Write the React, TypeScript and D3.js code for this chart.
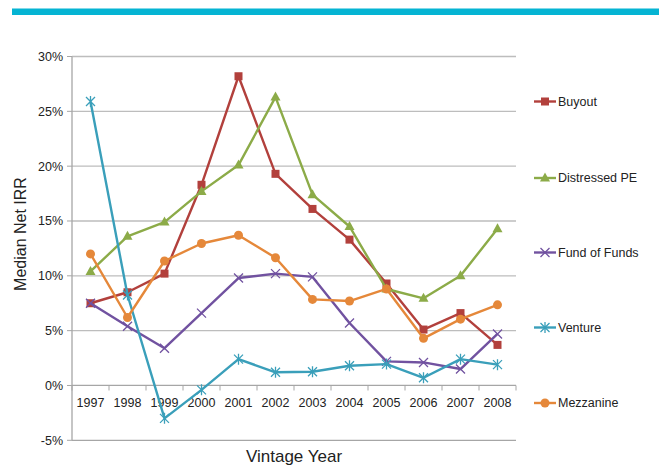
import React from "react";
import * as d3 from "d3";

const years = ["1997","1998","1999","2000","2001","2002","2003","2004","2005","2006","2007","2008"];
const buyout = [7.5, 8.5, 10.2, 18.3, 28.2, 19.3, 16.1, 13.3, 9.3, 5.1, 6.6, 3.7];
const distressed = [10.4, 13.6, 14.9, 17.7, 20.1, 26.3, 17.4, 14.5, 8.8, 7.95, 10.0, 14.3];
const fundOfFunds = [7.5, 5.4, 3.4, 6.6, 9.8, 10.2, 9.9, 5.7, 2.2, 2.1, 1.5, 4.7];
const venture = [25.9, 8.25, -3.0, -0.4, 2.4, 1.2, 1.25, 1.8, 1.95, 0.7, 2.4, 1.9];
const mezzanine = [12.0, 6.2, 11.35, 12.95, 13.7, 11.65, 7.85, 7.7, 8.8, 4.3, 6.05, 7.35];
const yTicks = [-5, 0, 5, 10, 15, 20, 25, 30];

const seriesList = [
  { name: "Buyout", values: buyout, color: "#B2403C", marker: "square" },
  { name: "Distressed PE", values: distressed, color: "#8CAB48", marker: "triangle" },
  { name: "Fund of Funds", values: fundOfFunds, color: "#7152A0", marker: "x" },
  { name: "Venture", values: venture, color: "#3A9FBA", marker: "star" },
  { name: "Mezzanine", values: mezzanine, color: "#E5883A", marker: "circle" },
];

const FONT = "'Liberation Sans', Arial, sans-serif";

function Marker({ type, x, y, color }: { type: string; x: number; y: number; color: string }) {
  if (type === "square") return <rect x={x - 4} y={y - 4} width={8} height={8} fill={color} />;
  if (type === "circle") return <circle cx={x} cy={y} r={4.5} fill={color} />;
  if (type === "triangle")
    return <path d={`M${x},${y - 5.5} L${x + 5},${y + 3.5} L${x - 5},${y + 3.5} Z`} fill={color} />;
  if (type === "x")
    return (
      <path d={`M${x - 4.5},${y - 4.5} L${x + 4.5},${y + 4.5} M${x - 4.5},${y + 4.5} L${x + 4.5},${y - 4.5}`} stroke={color} strokeWidth={1.3} />
    );
  // star (asterisk)
  return (
    <path
      d={`M${x - 4.5},${y - 4.5} L${x + 4.5},${y + 4.5} M${x - 4.5},${y + 4.5} L${x + 4.5},${y - 4.5} M${x},${y - 5.5} L${x},${y + 5.5}`}
      stroke={color}
      strokeWidth={1.3}
    />
  );
}

export default function App() {
  const W = 659, H = 468;
  const left = 72, right = 516, top = 56.5, bottom = 440.3;
  const x = d3.scaleBand<string>().domain(years).range([left, right]);
  const y = d3.scaleLinear().domain([-5, 30]).range([bottom, top]);
  const cx = (yr: string) => (x(yr) as number) + x.bandwidth() / 2;
  const line = d3
    .line<number>()
    .x((_, i) => cx(years[i]))
    .y((v) => y(v));
  const legendY = [101.5, 178, 252.5, 327.5, 403];
  const tickBoundaries = d3.range(years.length + 1).map((i) => left + i * x.bandwidth());

  return (
    <svg width={W} height={H} style={{ position: "absolute", left: 0, top: 0, background: "#fff" }}>
      <rect x={12} y={8.5} width={647} height={6.5} fill="#05B4D3" />
      {yTicks.map((t) => (
        <g key={t}>
          {t !== -5 && t !== 0 ? (
            <line x1={left} x2={right} y1={y(t)} y2={y(t)} stroke="#BDBDBD" strokeWidth={1.3} />
          ) : null}
          <line x1={left - 5} x2={left} y1={y(t)} y2={y(t)} stroke="#A6A6A6" strokeWidth={1} />
          <text x={left - 9} y={y(t)} dy="0.35em" textAnchor="end" fontFamily={FONT} fontSize={12.5} fill="#222">
            {t}%
          </text>
        </g>
      ))}
      <line x1={left} x2={right} y1={bottom} y2={bottom} stroke="#A6A6A6" strokeWidth={1.3} />
      <line x1={left} x2={left} y1={top} y2={bottom} stroke="#A6A6A6" strokeWidth={1.3} />
      <line x1={left} x2={right} y1={y(0)} y2={y(0)} stroke="#A6A6A6" strokeWidth={1.3} />
      {tickBoundaries.map((bx, i) => (
        <line key={i} x1={bx} x2={bx} y1={y(0)} y2={y(0) + 5} stroke="#A6A6A6" strokeWidth={1} />
      ))}
      {years.map((yr) => (
        <text key={yr} x={cx(yr)} y={403} dy="0.35em" textAnchor="middle" fontFamily={FONT} fontSize={12.5} fill="#222">
          {yr}
        </text>
      ))}
      {seriesList.map((s) => (
        <g key={s.name}>
          <path d={line(s.values) || ""} fill="none" stroke={s.color} strokeWidth={2.4} strokeLinejoin="round" />
          {s.values.map((v, i) => (
            <Marker key={i} type={s.marker} x={cx(years[i])} y={y(v)} color={s.color} />
          ))}
        </g>
      ))}
      {seriesList.map((s, i) => (
        <g key={s.name}>
          <line x1={534} x2={556} y1={legendY[i]} y2={legendY[i]} stroke={s.color} strokeWidth={2.4} />
          <Marker type={s.marker} x={545} y={legendY[i]} color={s.color} />
          <text x={558} y={legendY[i]} dy="0.35em" fontFamily={FONT} fontSize={12.5} fill="#222">
            {s.name}
          </text>
        </g>
      ))}
      <text
        transform={`translate(20,234) rotate(-90)`}
        textAnchor="middle"
        dy="0.35em"
        fontFamily={FONT}
        fontSize={16}
        fill="#222"
      >
        Median Net IRR
      </text>
      <text x={294} y={456} dy="0.35em" textAnchor="middle" fontFamily={FONT} fontSize={17} fill="#222">
        Vintage Year
      </text>
    </svg>
  );
}
